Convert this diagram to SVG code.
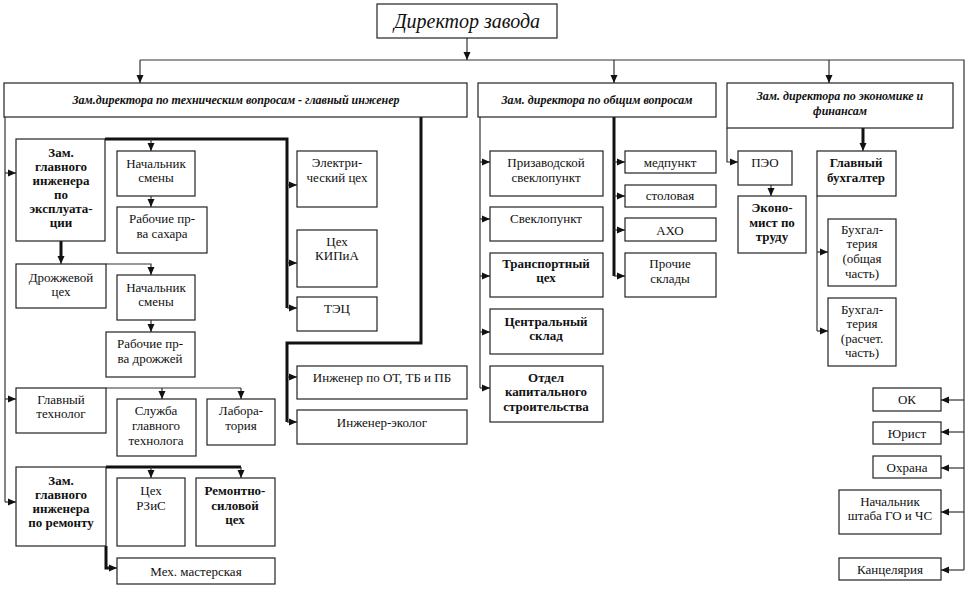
<svg xmlns="http://www.w3.org/2000/svg" width="971" height="592" viewBox="0 0 971 592">
<defs>
<marker id="a" markerUnits="userSpaceOnUse" markerWidth="8" markerHeight="8" viewBox="0 0 8 8" refX="8" refY="4" orient="auto"><path d="M0,0.5 L8,4 L0,7.5 z" fill="#111"/></marker>
<style>
.b{fill:#fff;stroke:#222;stroke-width:1.2}
text{font-family:'Liberation Serif','Times New Roman',serif;fill:#111;text-anchor:middle}
.t{font-size:13px}
.tb{font-size:13px;font-weight:bold}
.ti{font-size:12px;font-weight:bold;font-style:italic}
.td{font-size:20px;font-style:italic}
.c{fill:none;stroke:#333;stroke-width:1.2}
.k{fill:none;stroke:#111;stroke-width:3}
</style>
</defs>
<rect width="971" height="592" fill="#fff"/>
<g id="connectors">
<path class="c" d="M467,38 V60" marker-end="url(#a)"/>
<path class="c" d="M140,60 H964 V570"/>
<path class="c" d="M140,60 V83" marker-end="url(#a)"/>
<path class="c" d="M614,60 V83" marker-end="url(#a)"/>
<path class="c" d="M829,60 V83" marker-end="url(#a)"/>
<path class="c" d="M5,117 V502"/>
<path class="c" d="M5,173 H16" marker-end="url(#a)"/>
<path class="c" d="M5,399 H16" marker-end="url(#a)"/>
<path class="c" d="M5,502 H16" marker-end="url(#a)"/>
<path class="k" d="M105,139 H287 V308"/>
<path class="c" d="M287,185 H297" marker-end="url(#a)"/>
<path class="c" d="M287,263 H297" marker-end="url(#a)"/>
<path class="c" d="M287,308 H297" marker-end="url(#a)"/>
<path class="c" d="M151,139 V151" marker-end="url(#a)"/>
<path class="c" d="M151,196 V207" marker-end="url(#a)"/>
<path class="k" d="M61,241 V258"/>
<path class="c" d="M61,256 V264" marker-end="url(#a)"/>
<path class="c" d="M106,264 H151 V275" marker-end="url(#a)"/>
<path class="c" d="M151,320 V332" marker-end="url(#a)"/>
<path class="c" d="M106,388 H241"/>
<path class="c" d="M162,388 V399" marker-end="url(#a)"/>
<path class="c" d="M241,388 V399" marker-end="url(#a)"/>
<path class="k" d="M106,467 H241"/>
<path class="c" d="M151,467 V478" marker-end="url(#a)"/>
<path class="c" d="M241,467 V478" marker-end="url(#a)"/>
<path class="k" d="M106,546 V568 H110"/>
<path class="c" d="M108,568 H117" marker-end="url(#a)"/>
<path class="k" d="M421,117 V343 H287 V422"/>
<path class="c" d="M287,377 H297" marker-end="url(#a)"/>
<path class="c" d="M287,422 H297" marker-end="url(#a)"/>
<path class="c" d="M480,117 V388"/>
<path class="c" d="M480,162 H490" marker-end="url(#a)"/>
<path class="c" d="M480,219 H490" marker-end="url(#a)"/>
<path class="c" d="M480,276 H490" marker-end="url(#a)"/>
<path class="c" d="M480,332 H490" marker-end="url(#a)"/>
<path class="c" d="M480,388 H490" marker-end="url(#a)"/>
<path class="k" d="M614,117 V276"/>
<path class="c" d="M614,162 H625" marker-end="url(#a)"/>
<path class="c" d="M614,196 H625" marker-end="url(#a)"/>
<path class="c" d="M614,230 H625" marker-end="url(#a)"/>
<path class="c" d="M614,276 H625" marker-end="url(#a)"/>
<path class="c" d="M727,128 V162 H738" marker-end="url(#a)"/>
<path class="c" d="M771,185 V196" marker-end="url(#a)"/>
<path class="k" d="M863,128 V146"/>
<path class="c" d="M863,144 V151" marker-end="url(#a)"/>
<path class="c" d="M817,196 V331"/>
<path class="c" d="M817,252 H828" marker-end="url(#a)"/>
<path class="c" d="M817,331 H828" marker-end="url(#a)"/>
<path class="c" d="M964,400 H941" marker-end="url(#a)"/>
<path class="c" d="M964,432 H941" marker-end="url(#a)"/>
<path class="c" d="M964,468 H941" marker-end="url(#a)"/>
<path class="c" d="M964,512 H941" marker-end="url(#a)"/>
<path class="c" d="M964,570 H941" marker-end="url(#a)"/>
</g>
<g id="director"><rect class="b" x="377" y="4" width="180" height="34"/><text class="td" x="467" y="28">Директор завода</text></g>
<g id="zam-tech"><rect class="b" x="4" y="83" width="463" height="34"/><text class="ti" x="236" y="104">Зам.директора по техническим  вопросам - главный инженер</text></g>
<g id="zam-general"><rect class="b" x="478" y="83" width="238" height="34"/><text class="ti" x="597" y="104">Зам. директора по общим вопросам</text></g>
<g id="zam-econ"><rect class="b" x="727" y="83" width="226" height="45"/><text class="ti" x="840" y="100">Зам. директора по экономике и</text><text class="ti" x="840" y="115">финансам</text></g>
<g id="zam-expl"><rect class="b" x="16" y="139" width="89" height="102"/><text class="tb" x="61" y="157">Зам.</text><text class="tb" x="61" y="171">главного</text><text class="tb" x="61" y="185">инженера</text><text class="tb" x="61" y="199">по</text><text class="tb" x="61" y="213">эксплуата-</text><text class="tb" x="61" y="227">ции</text></g>
<g id="nach-smeny-1"><rect class="b" x="117" y="151" width="78" height="45"/><text class="t" x="156" y="168">Начальник</text><text class="t" x="156" y="182">смены</text></g>
<g id="rab-sahar"><rect class="b" x="117" y="207" width="90" height="46"/><text class="t" x="162" y="223">Рабочие пр-</text><text class="t" x="162" y="238">ва сахара</text></g>
<g id="electro"><rect class="b" x="297" y="151" width="80" height="56"/><text class="t" x="337" y="167">Электри-</text><text class="t" x="337" y="182">ческий цех</text></g>
<g id="kipia"><rect class="b" x="297" y="230" width="80" height="57"/><text class="t" x="337" y="246">Цех</text><text class="t" x="337" y="260">КИПиА</text></g>
<g id="tec"><rect class="b" x="297" y="297" width="80" height="34"/><text class="t" x="337" y="313">ТЭЦ</text></g>
<g id="drozh"><rect class="b" x="16" y="264" width="90" height="44"/><text class="t" x="61" y="282">Дрожжевой</text><text class="t" x="61" y="296">цех</text></g>
<g id="nach-smeny-2"><rect class="b" x="117" y="275" width="78" height="45"/><text class="t" x="156" y="292">Начальник</text><text class="t" x="156" y="306">смены</text></g>
<g id="rab-drozh"><rect class="b" x="106" y="332" width="89" height="45"/><text class="t" x="150" y="348">Рабочие пр-</text><text class="t" x="150" y="363">ва дрожжей</text></g>
<g id="gl-tehnolog"><rect class="b" x="16" y="388" width="90" height="45"/><text class="t" x="61" y="404">Главный</text><text class="t" x="61" y="418">технолог</text></g>
<g id="sluzhba"><rect class="b" x="117" y="399" width="79" height="57"/><text class="t" x="156" y="415">Служба</text><text class="t" x="156" y="430">главного</text><text class="t" x="156" y="445">технолога</text></g>
<g id="lab"><rect class="b" x="207" y="399" width="68" height="46"/><text class="t" x="241" y="415">Лабора-</text><text class="t" x="241" y="430">тория</text></g>
<g id="zam-rem"><rect class="b" x="16" y="467" width="90" height="79"/><text class="tb" x="61" y="485">Зам.</text><text class="tb" x="61" y="499">главного</text><text class="tb" x="61" y="513">инженера</text><text class="tb" x="61" y="527">по ремонту</text></g>
<g id="rzis"><rect class="b" x="117" y="478" width="68" height="68"/><text class="t" x="151" y="495">Цех</text><text class="t" x="151" y="510">РЗиС</text></g>
<g id="rem-sil"><rect class="b" x="196" y="478" width="79" height="68"/><text class="tb" x="235" y="495">Ремонтно-</text><text class="tb" x="235" y="510">силовой</text><text class="tb" x="235" y="524">цех</text></g>
<g id="meh"><rect class="b" x="117" y="558" width="158" height="26"/><text class="t" x="196" y="576">Мех. мастерская</text></g>
<g id="ing-ot"><rect class="b" x="297" y="366" width="170" height="33"/><text class="t" x="382" y="382">Инженер по ОТ,  ТБ и ПБ</text></g>
<g id="ing-ekolog"><rect class="b" x="297" y="410" width="170" height="34"/><text class="t" x="382" y="427">Инженер-эколог</text></g>
<g id="prizavod"><rect class="b" x="490" y="151" width="113" height="45"/><text class="t" x="546" y="167">Призаводской</text><text class="t" x="546" y="182">свеклопункт</text></g>
<g id="sveklo"><rect class="b" x="490" y="207" width="113" height="34"/><text class="t" x="546" y="223">Свеклопункт</text></g>
<g id="transport"><rect class="b" x="490" y="253" width="113" height="44"/><text class="tb" x="546" y="268">Транспортный</text><text class="tb" x="546" y="282">цех</text></g>
<g id="central"><rect class="b" x="490" y="309" width="113" height="45"/><text class="tb" x="546" y="326">Центральный</text><text class="tb" x="546" y="340">склад</text></g>
<g id="oks"><rect class="b" x="490" y="366" width="113" height="56"/><text class="tb" x="546" y="382">Отдел</text><text class="tb" x="546" y="396">капитального</text><text class="tb" x="546" y="411">строительства</text></g>
<g id="medpunkt"><rect class="b" x="625" y="151" width="91" height="22"/><text class="t" x="670" y="167">медпункт</text></g>
<g id="stolovaya"><rect class="b" x="625" y="185" width="91" height="22"/><text class="t" x="670" y="200">столовая</text></g>
<g id="aho"><rect class="b" x="625" y="218" width="91" height="23"/><text class="t" x="670" y="235">АХО</text></g>
<g id="sklady"><rect class="b" x="625" y="253" width="91" height="44"/><text class="t" x="670" y="268">Прочие</text><text class="t" x="670" y="283">склады</text></g>
<g id="peo"><rect class="b" x="738" y="151" width="54" height="34"/><text class="t" x="765" y="167">ПЭО</text></g>
<g id="ekonomist"><rect class="b" x="738" y="196" width="68" height="57"/><text class="tb" x="772" y="212">Эконо-</text><text class="tb" x="772" y="227">мист по</text><text class="tb" x="772" y="241">труду</text></g>
<g id="gl-buh"><rect class="b" x="817" y="151" width="79" height="45"/><text class="tb" x="856" y="167">Главный</text><text class="tb" x="856" y="182">бухгалтер</text></g>
<g id="buh-obsh"><rect class="b" x="828" y="219" width="68" height="67"/><text class="t" x="862" y="234">Бухгал-</text><text class="t" x="862" y="248">терия</text><text class="t" x="862" y="263">(общая</text><text class="t" x="862" y="278">часть)</text></g>
<g id="buh-rasch"><rect class="b" x="828" y="298" width="68" height="68"/><text class="t" x="862" y="314">Бухгал-</text><text class="t" x="862" y="328">терия</text><text class="t" x="862" y="343">(расчет.</text><text class="t" x="862" y="357">часть)</text></g>
<g id="ok"><rect class="b" x="873" y="388" width="68" height="23"/><text class="t" x="907" y="404">ОК</text></g>
<g id="yurist"><rect class="b" x="873" y="422" width="68" height="22"/><text class="t" x="907" y="438">Юрист</text></g>
<g id="ohrana"><rect class="b" x="873" y="456" width="68" height="22"/><text class="t" x="907" y="472">Охрана</text></g>
<g id="shtab"><rect class="b" x="839" y="490" width="102" height="44"/><text class="t" x="890" y="506">Начальник</text><text class="t" x="890" y="520">штаба ГО и ЧС</text></g>
<g id="kanc"><rect class="b" x="839" y="558" width="102" height="22"/><text class="t" x="890" y="574">Канцелярия</text></g>
</svg>
